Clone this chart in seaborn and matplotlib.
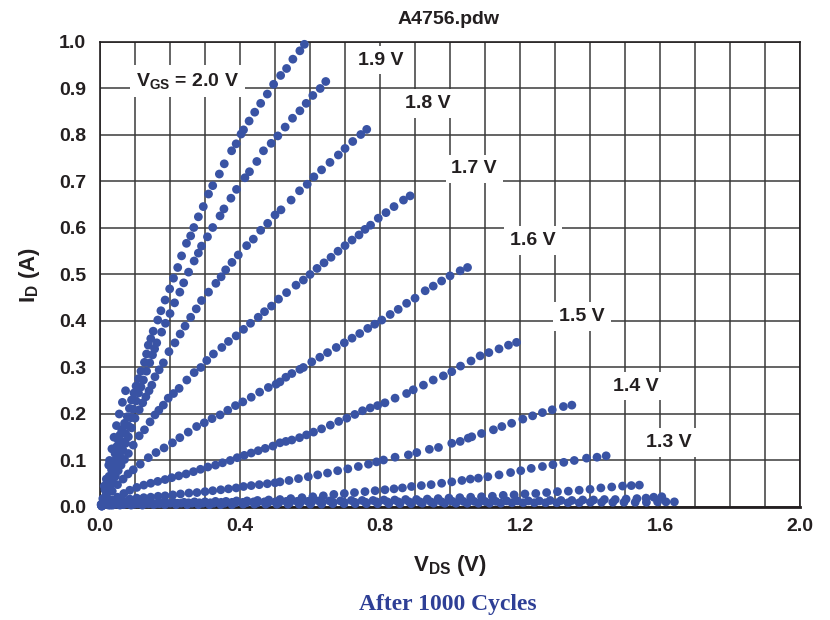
import numpy as np
import pandas as pd
import matplotlib
matplotlib.use("Agg")
import matplotlib.pyplot as plt
from matplotlib.ticker import MultipleLocator
import seaborn as sns

# ---- measured output characteristics, one pair of lists per gate voltage ----
vds_20 = [0.003, 0.008, 0.012, 0.014, 0.018, 0.020, 0.025, 0.026, 0.027, 0.033, 0.034, 0.038, 0.040,
          0.043, 0.047, 0.048, 0.052, 0.055, 0.057, 0.062, 0.064, 0.070, 0.073, 0.078, 0.084, 0.090,
          0.097, 0.103, 0.110, 0.117, 0.127, 0.133, 0.138, 0.145, 0.152, 0.165, 0.174, 0.186, 0.199,
          0.210, 0.222, 0.233, 0.247, 0.259, 0.268, 0.281, 0.295, 0.310, 0.322, 0.341, 0.355, 0.376,
          0.389, 0.403, 0.410, 0.426, 0.442, 0.459, 0.478, 0.496, 0.516, 0.533, 0.551, 0.571, 0.584]
id_20 = [0.005, 0.018, 0.045, 0.037, 0.060, 0.052, 0.090, 0.066, 0.100, 0.080, 0.125, 0.098, 0.150,
         0.115, 0.175, 0.130, 0.144, 0.200, 0.155, 0.166, 0.225, 0.180, 0.250, 0.194, 0.212, 0.230,
         0.245, 0.260, 0.276, 0.292, 0.311, 0.329, 0.348, 0.362, 0.378, 0.402, 0.422, 0.445, 0.469,
         0.492, 0.515, 0.540, 0.567, 0.583, 0.601, 0.624, 0.646, 0.673, 0.691, 0.716, 0.738, 0.766,
         0.781, 0.802, 0.811, 0.830, 0.849, 0.868, 0.888, 0.909, 0.928, 0.943, 0.963, 0.981, 0.995]

vds_19 = [0.004, 0.010, 0.018, 0.026, 0.035, 0.043, 0.050, 0.058, 0.065, 0.073, 0.080, 0.088, 0.095,
          0.103, 0.110, 0.117, 0.124, 0.133, 0.142, 0.150, 0.156, 0.162, 0.176, 0.187, 0.200, 0.213,
          0.228, 0.239, 0.253, 0.269, 0.281, 0.290, 0.307, 0.322, 0.343, 0.354, 0.374, 0.390, 0.414,
          0.427, 0.448, 0.467, 0.489, 0.508, 0.529, 0.550, 0.571, 0.589, 0.608, 0.629, 0.645]
id_19 = [0.006, 0.018, 0.036, 0.055, 0.072, 0.090, 0.105, 0.122, 0.140, 0.158, 0.175, 0.192, 0.210,
         0.228, 0.245, 0.258, 0.273, 0.292, 0.310, 0.327, 0.340, 0.353, 0.376, 0.395, 0.416, 0.439,
         0.462, 0.482, 0.505, 0.529, 0.546, 0.561, 0.581, 0.601, 0.626, 0.641, 0.664, 0.683, 0.708,
         0.721, 0.743, 0.766, 0.782, 0.798, 0.817, 0.836, 0.852, 0.868, 0.885, 0.900, 0.915]

vds_18 = [0.004, 0.010, 0.018, 0.026, 0.035, 0.043, 0.050, 0.058, 0.065, 0.073, 0.081, 0.090, 0.100,
          0.112, 0.122, 0.131, 0.140, 0.148, 0.157, 0.169, 0.181, 0.197, 0.214, 0.229, 0.243, 0.259,
          0.275, 0.290, 0.310, 0.331, 0.346, 0.359, 0.377, 0.395, 0.419, 0.438, 0.459, 0.479, 0.500,
          0.517, 0.546, 0.570, 0.592, 0.611, 0.633, 0.657, 0.681, 0.700, 0.722, 0.745, 0.762]
id_18 = [0.005, 0.014, 0.028, 0.042, 0.060, 0.078, 0.093, 0.108, 0.123, 0.137, 0.151, 0.170, 0.191,
         0.209, 0.224, 0.237, 0.250, 0.262, 0.280, 0.295, 0.310, 0.334, 0.353, 0.372, 0.389, 0.408,
         0.426, 0.444, 0.462, 0.481, 0.495, 0.510, 0.526, 0.542, 0.562, 0.576, 0.595, 0.610, 0.628,
         0.639, 0.660, 0.680, 0.694, 0.710, 0.725, 0.741, 0.757, 0.771, 0.786, 0.801, 0.812]

vds_17 = [0.004, 0.012, 0.020, 0.028, 0.036, 0.044, 0.052, 0.060, 0.070, 0.081, 0.095, 0.112, 0.127,
          0.143, 0.157, 0.168, 0.181, 0.195, 0.210, 0.226, 0.248, 0.269, 0.288, 0.305, 0.324, 0.348,
          0.367, 0.389, 0.410, 0.430, 0.452, 0.470, 0.490, 0.510, 0.533, 0.560, 0.581, 0.600, 0.620,
          0.640, 0.660, 0.680, 0.700, 0.720, 0.740, 0.757, 0.773, 0.795, 0.817, 0.840, 0.867, 0.886]
id_17 = [0.004, 0.018, 0.030, 0.042, 0.054, 0.066, 0.078, 0.090, 0.102, 0.115, 0.133, 0.153, 0.166,
         0.183, 0.198, 0.208, 0.219, 0.234, 0.244, 0.255, 0.273, 0.289, 0.300, 0.315, 0.329, 0.343,
         0.356, 0.368, 0.382, 0.395, 0.408, 0.420, 0.432, 0.447, 0.461, 0.477, 0.488, 0.500, 0.513,
         0.525, 0.537, 0.550, 0.562, 0.574, 0.585, 0.597, 0.606, 0.621, 0.633, 0.646, 0.660, 0.669]

vds_16 = [0.005, 0.020, 0.035, 0.050, 0.066, 0.080, 0.095, 0.115, 0.138, 0.160, 0.183, 0.207, 0.228,
          0.252, 0.276, 0.298, 0.320, 0.343, 0.365, 0.387, 0.408, 0.432, 0.456, 0.481, 0.503, 0.514,
          0.531, 0.548, 0.571, 0.581, 0.605, 0.628, 0.650, 0.675, 0.698, 0.720, 0.742, 0.765, 0.785,
          0.805, 0.829, 0.852, 0.876, 0.900, 0.929, 0.952, 0.976, 1.000, 1.029, 1.050]
id_16 = [0.004, 0.019, 0.034, 0.048, 0.060, 0.071, 0.080, 0.092, 0.106, 0.117, 0.127, 0.138, 0.149,
         0.161, 0.173, 0.181, 0.190, 0.198, 0.208, 0.218, 0.226, 0.236, 0.247, 0.257, 0.264, 0.269,
         0.279, 0.287, 0.296, 0.300, 0.312, 0.322, 0.332, 0.343, 0.353, 0.363, 0.373, 0.384, 0.393,
         0.402, 0.414, 0.425, 0.438, 0.449, 0.465, 0.475, 0.486, 0.497, 0.508, 0.515]

vds_15 = [0.005, 0.020, 0.035, 0.050, 0.068, 0.085, 0.105, 0.125, 0.145, 0.165, 0.186, 0.205, 0.225,
          0.246, 0.267, 0.287, 0.308, 0.330, 0.350, 0.372, 0.392, 0.412, 0.432, 0.452, 0.472, 0.494,
          0.514, 0.531, 0.548, 0.570, 0.590, 0.610, 0.633, 0.658, 0.682, 0.705, 0.728, 0.750, 0.772,
          0.793, 0.814, 0.843, 0.876, 0.895, 0.924, 0.952, 0.981, 1.005, 1.030, 1.060, 1.086, 1.111,
          1.140, 1.167, 1.190]
id_15 = [0.003, 0.009, 0.015, 0.021, 0.029, 0.036, 0.042, 0.047, 0.051, 0.055, 0.059, 0.063, 0.067,
         0.071, 0.076, 0.081, 0.086, 0.090, 0.095, 0.100, 0.106, 0.111, 0.116, 0.121, 0.126, 0.131,
         0.138, 0.141, 0.144, 0.149, 0.155, 0.161, 0.168, 0.176, 0.184, 0.191, 0.199, 0.207, 0.213,
         0.218, 0.224, 0.234, 0.244, 0.252, 0.262, 0.273, 0.282, 0.291, 0.303, 0.314, 0.325, 0.332,
         0.340, 0.348, 0.354]

vds_14 = [0.005, 0.025, 0.045, 0.065, 0.085, 0.105, 0.125, 0.145, 0.166, 0.186, 0.208, 0.230, 0.254,
          0.277, 0.300, 0.322, 0.345, 0.367, 0.389, 0.410, 0.432, 0.455, 0.478, 0.500, 0.514, 0.540,
          0.567, 0.595, 0.622, 0.650, 0.679, 0.708, 0.738, 0.767, 0.790, 0.810, 0.843, 0.881, 0.905,
          0.941, 0.967, 1.005, 1.029, 1.052, 1.062, 1.090, 1.124, 1.148, 1.176, 1.208, 1.236, 1.264,
          1.292, 1.324, 1.348]
id_14 = [0.002, 0.007, 0.011, 0.014, 0.017, 0.019, 0.020, 0.021, 0.023, 0.024, 0.026, 0.028, 0.030,
         0.031, 0.033, 0.035, 0.037, 0.039, 0.041, 0.044, 0.046, 0.048, 0.050, 0.052, 0.054, 0.057,
         0.061, 0.065, 0.069, 0.073, 0.078, 0.082, 0.087, 0.092, 0.097, 0.101, 0.107, 0.112, 0.117,
         0.124, 0.128, 0.137, 0.141, 0.148, 0.151, 0.158, 0.166, 0.173, 0.180, 0.189, 0.196, 0.203,
         0.209, 0.216, 0.219]

vds_13 = [0.005, 0.030, 0.060, 0.090, 0.120, 0.150, 0.180, 0.210, 0.240, 0.270, 0.300, 0.330, 0.360,
          0.390, 0.420, 0.450, 0.482, 0.514, 0.545, 0.577, 0.608, 0.638, 0.668, 0.698, 0.727, 0.757,
          0.786, 0.814, 0.840, 0.864, 0.890, 0.918, 0.946, 0.976, 1.005, 1.034, 1.058, 1.081, 1.108,
          1.140, 1.173, 1.202, 1.232, 1.264, 1.294, 1.325, 1.355, 1.390, 1.420, 1.446]
id_13 = [0.002, 0.004, 0.005, 0.006, 0.007, 0.008, 0.009, 0.010, 0.010, 0.011, 0.011, 0.012, 0.012,
         0.013, 0.013, 0.014, 0.015, 0.016, 0.018, 0.020, 0.022, 0.024, 0.027, 0.029, 0.031, 0.033,
         0.035, 0.037, 0.039, 0.041, 0.044, 0.046, 0.048, 0.051, 0.054, 0.057, 0.060, 0.062, 0.065,
         0.069, 0.074, 0.078, 0.083, 0.087, 0.091, 0.096, 0.100, 0.105, 0.107, 0.110]

vds_12 = [0.005, 0.036, 0.067, 0.098, 0.129, 0.160, 0.191, 0.222, 0.253, 0.284, 0.315, 0.346, 0.377,
          0.408, 0.439, 0.470, 0.501, 0.532, 0.563, 0.594, 0.625, 0.656, 0.687, 0.718, 0.749, 0.780,
          0.811, 0.842, 0.873, 0.904, 0.935, 0.966, 0.997, 1.028, 1.059, 1.090, 1.121, 1.152, 1.183,
          1.214, 1.245, 1.276, 1.307, 1.338, 1.369, 1.400, 1.431, 1.462, 1.493, 1.518, 1.541]
id_12 = [0.002, 0.004, 0.005, 0.006, 0.007, 0.007, 0.008, 0.008, 0.009, 0.009, 0.009, 0.010, 0.010,
         0.010, 0.011, 0.011, 0.011, 0.012, 0.012, 0.012, 0.013, 0.013, 0.013, 0.014, 0.014, 0.014,
         0.015, 0.015, 0.016, 0.016, 0.017, 0.018, 0.019, 0.020, 0.021, 0.022, 0.023, 0.025, 0.026,
         0.028, 0.029, 0.031, 0.033, 0.034, 0.036, 0.038, 0.041, 0.043, 0.045, 0.046, 0.047]

vds_11 = [0.015, 0.046, 0.077, 0.108, 0.139, 0.170, 0.201, 0.232, 0.263, 0.294, 0.325, 0.356, 0.387,
          0.418, 0.449, 0.480, 0.511, 0.542, 0.573, 0.604, 0.635, 0.666, 0.697, 0.728, 0.759, 0.790,
          0.821, 0.852, 0.883, 0.914, 0.945, 0.976, 1.007, 1.038, 1.069, 1.100, 1.131, 1.162, 1.193,
          1.224, 1.255, 1.286, 1.317, 1.348, 1.379, 1.410, 1.441, 1.472, 1.503, 1.534, 1.560, 1.582,
          1.605]
id_11 = [0.006, 0.006, 0.007, 0.007, 0.007, 0.007, 0.008, 0.008, 0.008, 0.008, 0.008, 0.008, 0.009,
         0.009, 0.009, 0.009, 0.009, 0.009, 0.010, 0.010, 0.010, 0.010, 0.010, 0.010, 0.010, 0.011,
         0.011, 0.011, 0.011, 0.011, 0.011, 0.011, 0.012, 0.012, 0.012, 0.012, 0.012, 0.013, 0.013,
         0.013, 0.013, 0.014, 0.014, 0.014, 0.015, 0.015, 0.016, 0.016, 0.017, 0.018, 0.019, 0.021,
         0.022]

vds_10 = [0.025, 0.057, 0.089, 0.121, 0.153, 0.185, 0.217, 0.249, 0.281, 0.313, 0.345, 0.377, 0.409,
          0.441, 0.473, 0.505, 0.537, 0.569, 0.601, 0.633, 0.665, 0.697, 0.729, 0.761, 0.793, 0.825,
          0.857, 0.889, 0.921, 0.953, 0.985, 1.017, 1.049, 1.081, 1.113, 1.145, 1.177, 1.209, 1.241,
          1.273, 1.305, 1.337, 1.369, 1.401, 1.433, 1.465, 1.497, 1.529, 1.561, 1.593, 1.617, 1.641]
id_10 = [0.004, 0.004, 0.004, 0.004, 0.005, 0.005, 0.005, 0.005, 0.005, 0.005, 0.005, 0.005, 0.006,
         0.006, 0.006, 0.006, 0.006, 0.006, 0.006, 0.006, 0.007, 0.007, 0.007, 0.007, 0.007, 0.007,
         0.007, 0.007, 0.008, 0.008, 0.008, 0.008, 0.008, 0.008, 0.008, 0.008, 0.009, 0.009, 0.009,
         0.009, 0.009, 0.009, 0.009, 0.010, 0.010, 0.010, 0.010, 0.010, 0.010, 0.011, 0.011, 0.011]

gate_voltages = ["2.0", "1.9", "1.8", "1.7", "1.6", "1.5", "1.4", "1.3", "1.2", "1.1", "1.0"]
vds_series = [vds_20, vds_19, vds_18, vds_17, vds_16, vds_15, vds_14, vds_13, vds_12, vds_11, vds_10]
id_series = [id_20, id_19, id_18, id_17, id_16, id_15, id_14, id_13, id_12, id_11, id_10]

# curve labels drawn on the plot
curve_labels = [r"$\mathbf{V_{GS}}$ = 2.0 V", "1.9 V", "1.8 V", "1.7 V", "1.6 V", "1.5 V", "1.4 V", "1.3 V"]
label_xy = [(0.249, 0.916), (0.803, 0.961), (0.937, 0.867), (1.069, 0.727),
            (1.237, 0.573), (1.377, 0.409), (1.531, 0.260), (1.626, 0.138)]

x_ticks = [0.0, 0.4, 0.8, 1.2, 1.6, 2.0]
y_ticks = [0.0, 0.1, 0.2, 0.3, 0.4, 0.5, 0.6, 0.7, 0.8, 0.9, 1.0]

frames = []
for vg, xs, ys in zip(gate_voltages, vds_series, id_series):
    frames.append(pd.DataFrame({"VDS": xs, "ID": ys, "VGS": vg}))
df = pd.concat(frames, ignore_index=True)

sns.set_style("white")
plt.rcParams["font.family"] = ["Liberation Sans", "DejaVu Sans"]
plt.rcParams["mathtext.fontset"] = "custom"
plt.rcParams["mathtext.rm"] = "Liberation Sans"
plt.rcParams["mathtext.bf"] = "Liberation Sans:bold"
plt.rcParams["mathtext.it"] = "Liberation Sans:italic"

TEXT = "#231f20"
DOT = "#3953a4"

fig = plt.figure(figsize=(8.3, 6.2), dpi=100)
ax = fig.add_axes([0.1205, 0.1823, 0.8434, 0.7500])

sns.scatterplot(data=df, x="VDS", y="ID", hue="VGS",
                palette={vg: DOT for vg in gate_voltages},
                s=40, linewidth=0, alpha=1.0, legend=False, ax=ax,
                clip_on=False, zorder=3)

ax.set_xlim(0, 2.0)
ax.set_ylim(0, 1.0)
ax.set_xticks(x_ticks)
ax.set_yticks(y_ticks)
ax.xaxis.set_minor_locator(MultipleLocator(0.1))
ax.set_xticklabels([f"{v:.1f}" for v in x_ticks])
ax.set_yticklabels([f"{v:.1f}" for v in y_ticks])
ax.grid(True, which="both", axis="both", color="#3a3a3a", linewidth=1.1, zorder=0)
ax.set_axisbelow(True)
ax.tick_params(axis="both", which="both", length=0, labelsize=14, labelcolor=TEXT)
ax.tick_params(axis="x", pad=8)
ax.tick_params(axis="y", pad=10)
for lab in ax.get_xticklabels() + ax.get_yticklabels():
    lab.set_fontweight("bold")

for side in ["left", "right", "top"]:
    ax.spines[side].set_color("#231f20")
    ax.spines[side].set_linewidth(1.2)
ax.spines["bottom"].set_color("#231f20")
ax.spines["bottom"].set_linewidth(2.0)

ax.set_xlabel(r"$\mathbf{V_{DS}}$ (V)", fontsize=16, fontweight="bold", color=TEXT, labelpad=13)
ax.set_ylabel(r"$\mathbf{I_D}$ (A)", fontsize=16, fontweight="bold", color=TEXT, labelpad=12)

for txt, (lx, ly) in zip(curve_labels, label_xy):
    ax.text(lx, ly, txt, fontsize=14, fontweight="bold", color=TEXT,
            ha="center", va="center", zorder=4,
            bbox=dict(boxstyle="square,pad=0.3", facecolor="white", edgecolor="none"))

fig.text(0.540, 0.968, "A4756.pdw", fontsize=14, fontweight="bold", color=TEXT,
         ha="center", va="center")
fig.text(0.540, 0.025, "After 1000 Cycles", fontsize=17, fontweight="bold",
         color="#2e3f96", family="Liberation Serif", ha="center", va="center")

fig.savefig("out.png", dpi=100)
